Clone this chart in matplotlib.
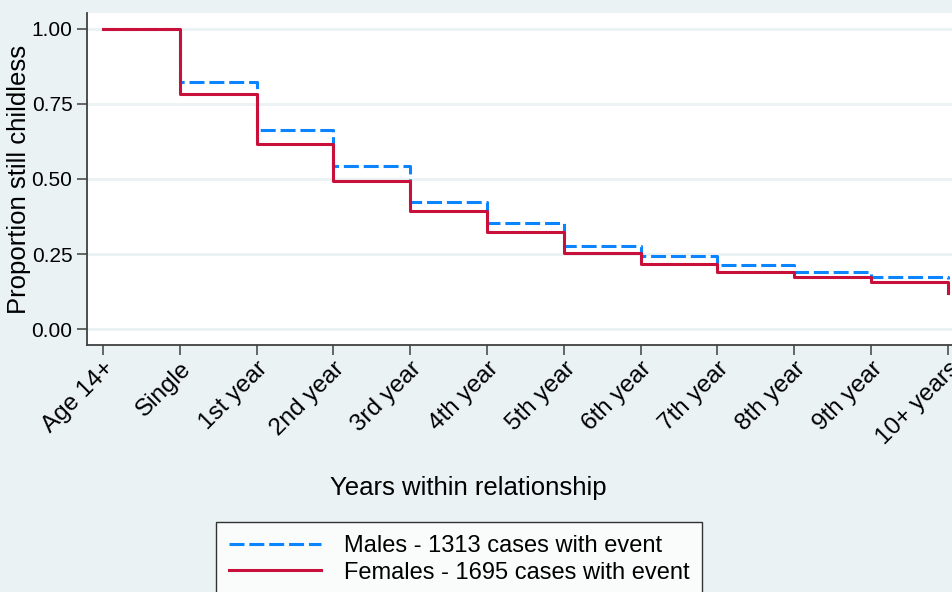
import matplotlib
matplotlib.use("Agg")
import matplotlib.pyplot as plt

# Kaplan-Meier style survivor estimates: proportion still childless
categories = ["Age 14+", "Single", "1st year", "2nd year", "3rd year", "4th year",
              "5th year", "6th year", "7th year", "8th year", "9th year", "10+ years"]
males = [1.000, 0.822, 0.664, 0.542, 0.424, 0.353, 0.278, 0.242, 0.214, 0.189, 0.174, 0.168]
females = [1.000, 0.783, 0.618, 0.492, 0.392, 0.322, 0.253, 0.217, 0.190, 0.172, 0.156, 0.120]
y_ticks = [0.0, 0.25, 0.5, 0.75, 1.0]
y_tick_labels = ["0.00", "0.25", "0.50", "0.75", "1.00"]
male_label = "Males - 1313 cases with event"
female_label = "Females - 1695 cases with event"

plt.rcParams["font.family"] = ["Liberation Sans", "DejaVu Sans"]

bg = "#EAF2F3"
fig = plt.figure(figsize=(9.52, 5.92), dpi=100, facecolor=bg)
ax = fig.add_axes([87 / 952, 1 - 345 / 592, 1 - 87 / 952 + 0.002, (345 - 13) / 592])
ax.set_facecolor("white")

x = list(range(len(categories)))
ax.step(x, males, where="post", color="#0A84FF", lw=2.2,
        linestyle=(0, (4.9, 1.6)), label=male_label, zorder=3)
ax.step(x, females, where="post", color="#C8103A", lw=2.2,
        label=female_label, zorder=4)

ax.set_xlim(-0.21, 11.08)
ax.set_ylim(-0.053, 1.053)

ax.set_yticks(y_ticks)
ax.set_yticklabels(y_tick_labels, fontsize=15)
ax.set_xticks(x)
ax.set_xticklabels(categories, fontsize=17.5, rotation=45, ha="right", va="top",
                   rotation_mode="anchor")

ax.grid(axis="y", color=bg, lw=2)
ax.set_axisbelow(True)
for s in ("top", "right"):
    ax.spines[s].set_visible(False)
for s in ("left", "bottom"):
    ax.spines[s].set_color("#404040")
    ax.spines[s].set_linewidth(1.3)
ax.tick_params(axis="both", direction="out", length=7, width=1.1, color="#404040",
               labelcolor="black")
ax.tick_params(axis="x", pad=2)

ax.set_ylabel("Proportion still childless", fontsize=18.5, labelpad=0)
fig.text(468 / 952, 1 - 488 / 592, "Years within relationship", fontsize=18.5,
         ha="center", va="center")

leg = fig.legend(loc="upper left", bbox_to_anchor=(216 / 952, 1 - 522 / 592),
                 fontsize=17, frameon=True, fancybox=False, edgecolor="black",
                 handlelength=3.9, handletextpad=0.95, labelspacing=0.2,
                 borderpad=0.55, borderaxespad=0)
leg.get_frame().set_linewidth(1.0)

fig.savefig("out.png", dpi=100, facecolor=bg)
